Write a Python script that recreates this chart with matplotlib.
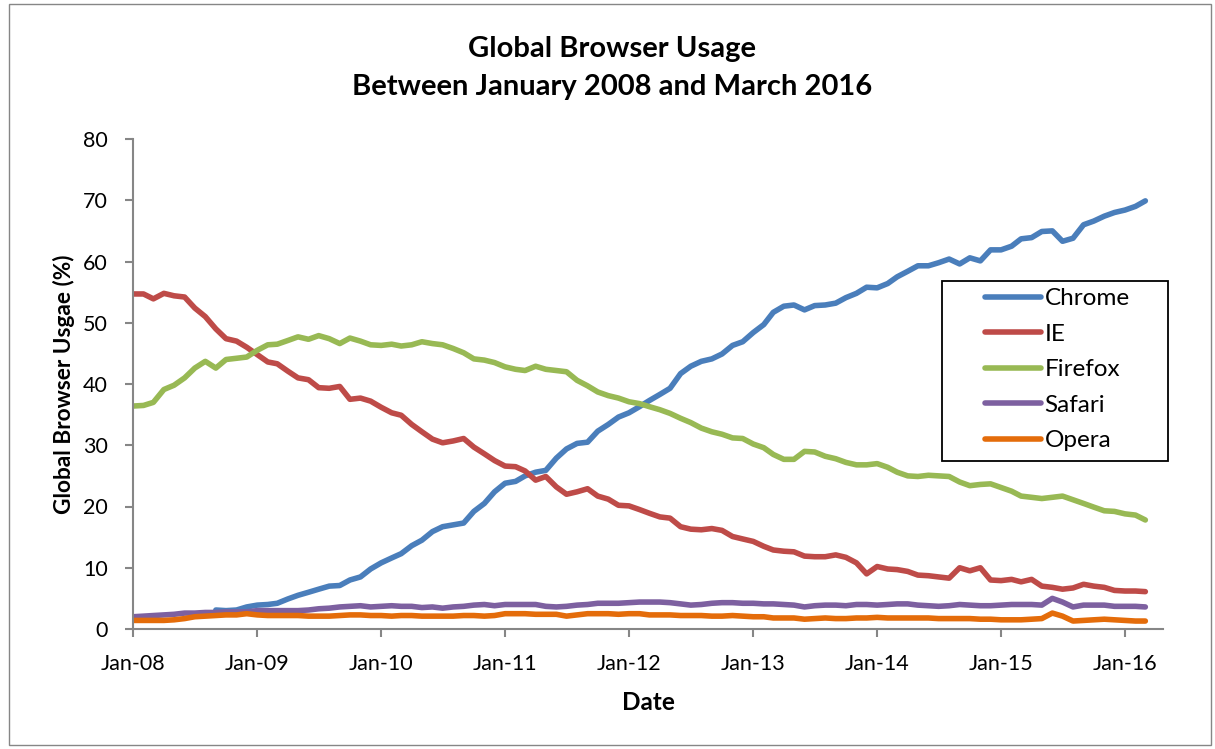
import numpy as np
import pandas as pd
import matplotlib
matplotlib.use("Agg")
import matplotlib.pyplot as plt
import matplotlib.dates as mdates
from matplotlib.patches import Rectangle

# monthly data, Jan 2008 .. Mar 2016
months = pd.date_range("2008-01-01", periods=99, freq="MS")

chrome = [np.nan] * 8 + [
    3.1, 3.0, 3.1, 3.6,
    3.9, 4.0, 4.2, 4.9, 5.5, 6.0, 6.5, 7.0, 7.1, 8.0, 8.5, 9.8,
    10.8, 11.6, 12.3, 13.6, 14.5, 15.9, 16.7, 17.0, 17.3, 19.2, 20.5, 22.4,
    23.8, 24.1, 25.0, 25.6, 25.9, 27.9, 29.4, 30.3, 30.5, 32.3, 33.4, 34.6,
    35.3, 36.3, 37.3, 38.3, 39.3, 41.7, 42.9, 43.7, 44.1, 44.9, 46.3, 46.9,
    48.4, 49.7, 51.7, 52.7, 52.9, 52.1, 52.8, 52.9, 53.2, 54.1, 54.8, 55.8,
    55.7, 56.4, 57.5, 58.4, 59.3, 59.3, 59.8, 60.4, 59.6, 60.6, 60.1, 61.9,
    61.9, 62.5, 63.7, 63.9, 64.9, 65.0, 63.3, 63.8, 66.0, 66.6, 67.4, 68.0,
    68.4, 69.0, 69.9,
]
ie = [
    54.7, 54.7, 53.9, 54.8, 54.4, 54.2, 52.4, 51.0, 49.0, 47.4, 47.0, 46.0,
    44.8, 43.6, 43.3, 42.1, 41.0, 40.7, 39.4, 39.3, 39.6, 37.5, 37.7, 37.2,
    36.2, 35.3, 34.9, 33.4, 32.2, 31.0, 30.4, 30.7, 31.1, 29.7, 28.6, 27.5,
    26.6, 26.5, 25.8, 24.3, 24.9, 23.2, 22.0, 22.4, 22.9, 21.7, 21.2, 20.2,
    20.1, 19.5, 18.9, 18.3, 18.1, 16.7, 16.3, 16.2, 16.4, 16.1, 15.1, 14.7,
    14.3, 13.5, 12.9, 12.7, 12.6, 11.9, 11.8, 11.8, 12.1, 11.7, 10.8, 9.0,
    10.2, 9.8, 9.7, 9.4, 8.8, 8.7, 8.5, 8.3, 10.0, 9.5, 10.0, 8.0,
    7.9, 8.1, 7.7, 8.1, 7.0, 6.8, 6.5, 6.7, 7.3, 7.0, 6.8, 6.3,
    6.2, 6.2, 6.1,
]
firefox = [
    36.4, 36.5, 37.0, 39.1, 39.8, 41.0, 42.6, 43.7, 42.6, 44.0, 44.2, 44.4,
    45.5, 46.4, 46.5, 47.1, 47.7, 47.3, 47.9, 47.4, 46.6, 47.5, 47.0, 46.4,
    46.3, 46.5, 46.2, 46.4, 46.9, 46.6, 46.4, 45.8, 45.1, 44.1, 43.9, 43.5,
    42.8, 42.4, 42.2, 42.9, 42.4, 42.2, 42.0, 40.6, 39.7, 38.7, 38.1, 37.7,
    37.1, 36.8, 36.3, 35.8, 35.2, 34.4, 33.7, 32.8, 32.2, 31.8, 31.2, 31.1,
    30.2, 29.6, 28.5, 27.7, 27.7, 29.0, 28.9, 28.2, 27.8, 27.2, 26.8, 26.8,
    27.0, 26.4, 25.6, 25.0, 24.9, 25.1, 25.0, 24.9, 24.0, 23.4, 23.6, 23.7,
    23.1, 22.5, 21.7, 21.5, 21.3, 21.5, 21.7, 21.1, 20.5, 19.9, 19.3, 19.2,
    18.8, 18.6, 17.8,
]
safari = [
    2.0, 2.1, 2.2, 2.3, 2.4, 2.6, 2.6, 2.7, 2.7, 2.8, 2.8, 2.8,
    3.0, 3.0, 3.0, 3.0, 3.0, 3.1, 3.3, 3.4, 3.6, 3.7, 3.8, 3.6,
    3.7, 3.8, 3.7, 3.7, 3.5, 3.6, 3.4, 3.6, 3.7, 3.9, 4.0, 3.8,
    4.0, 4.0, 4.0, 4.0, 3.7, 3.6, 3.7, 3.9, 4.0, 4.2, 4.2, 4.2,
    4.3, 4.4, 4.4, 4.4, 4.3, 4.1, 3.9, 4.0, 4.2, 4.3, 4.3, 4.2,
    4.2, 4.1, 4.1, 4.0, 3.9, 3.6, 3.8, 3.9, 3.9, 3.8, 4.0, 4.0,
    3.9, 4.0, 4.1, 4.1, 3.9, 3.8, 3.7, 3.8, 4.0, 3.9, 3.8, 3.8,
    3.9, 4.0, 4.0, 4.0, 3.9, 5.0, 4.4, 3.6, 3.9, 3.9, 3.9, 3.7,
    3.7, 3.7, 3.6,
]
opera = [
    1.4, 1.4, 1.4, 1.4, 1.5, 1.7, 2.0, 2.1, 2.2, 2.3, 2.3, 2.5,
    2.3, 2.2, 2.2, 2.2, 2.2, 2.1, 2.1, 2.1, 2.2, 2.3, 2.3, 2.2,
    2.2, 2.1, 2.2, 2.2, 2.1, 2.1, 2.1, 2.1, 2.2, 2.2, 2.1, 2.2,
    2.5, 2.5, 2.5, 2.4, 2.4, 2.4, 2.1, 2.3, 2.5, 2.5, 2.5, 2.4,
    2.5, 2.5, 2.3, 2.3, 2.3, 2.2, 2.2, 2.2, 2.1, 2.1, 2.2, 2.1,
    2.0, 2.0, 1.8, 1.8, 1.8, 1.6, 1.7, 1.8, 1.7, 1.7, 1.8, 1.8,
    1.9, 1.8, 1.8, 1.8, 1.8, 1.8, 1.7, 1.7, 1.7, 1.7, 1.6, 1.6,
    1.5, 1.5, 1.5, 1.6, 1.7, 2.6, 2.1, 1.3, 1.4, 1.5, 1.6, 1.5,
    1.4, 1.3, 1.3,
]

series = [("Chrome", chrome, "#4A7EBB"),
          ("IE", ie, "#BE4B48"),
          ("Firefox", firefox, "#98B954"),
          ("Safari", safari, "#7D60A0"),
          ("Opera", opera, "#E46C0A")]

plt.rcParams["font.family"] = ["Lato", "DejaVu Sans"]

W, H = 1215, 749
fig = plt.figure(figsize=(W / 100, H / 100), dpi=100)
ax = fig.add_axes([133 / W, 1 - 629 / H, (1163 - 133) / W, (629 - 139) / H])

for name, vals, col in series:
    ax.plot(months, vals, color=col, lw=4.0, label=name, solid_capstyle="round")

ax.set_ylim(0, 80)
ax.set_yticks(range(0, 81, 10))
ax.set_xlim(pd.Timestamp("2008-01-01"), pd.Timestamp("2016-04-22"))
ax.set_xticks(pd.date_range("2008-01-01", "2016-01-01", freq="YS"))
ax.xaxis.set_major_formatter(mdates.DateFormatter("%b-%y"))

for s in ["top", "right"]:
    ax.spines[s].set_visible(False)
for s in ["left", "bottom"]:
    ax.spines[s].set_color("#868686")
    ax.spines[s].set_linewidth(1.5)
ax.tick_params(axis="both", colors="#868686", labelcolor="black", labelsize=15.5,
               length=6, width=1.5, direction="out")
ax.tick_params(axis="x", pad=12)
ax.tick_params(axis="y", pad=12)

ax.set_xlabel("Date", fontsize=17.5, fontweight="bold", labelpad=12)
ax.set_ylabel("Global Browser Usgae (%)", fontsize=16.3, fontweight="bold", labelpad=6)
fig.text(612 / W, 1 - 68 / H, "Global Browser Usage\nBetween January 2008 and March 2016",
         ha="center", va="center", fontsize=21, fontweight="bold", linespacing=1.55)

# legend frame drawn separately, entries placed inside it
fig.patches.append(Rectangle((942 / W, 1 - 461 / H), 226 / W, 180 / H, transform=fig.transFigure,
                             fill=False, edgecolor="black", lw=1.3, zorder=5))
leg = ax.legend(loc="upper left", bbox_to_anchor=(985 / W, 1 - 288 / H), bbox_transform=fig.transFigure,
                fontsize=17.5, frameon=False, handlelength=2.3, handletextpad=0.15,
                labelspacing=0.6, borderpad=0, borderaxespad=0)
leg.set_zorder(5)

# chart area border
fig.patches.append(Rectangle((0.007, 0.005), 0.99, 0.99, transform=fig.transFigure,
                             fill=False, edgecolor="#868686", lw=1.0))

fig.savefig("out.png", dpi=100, facecolor="white")
